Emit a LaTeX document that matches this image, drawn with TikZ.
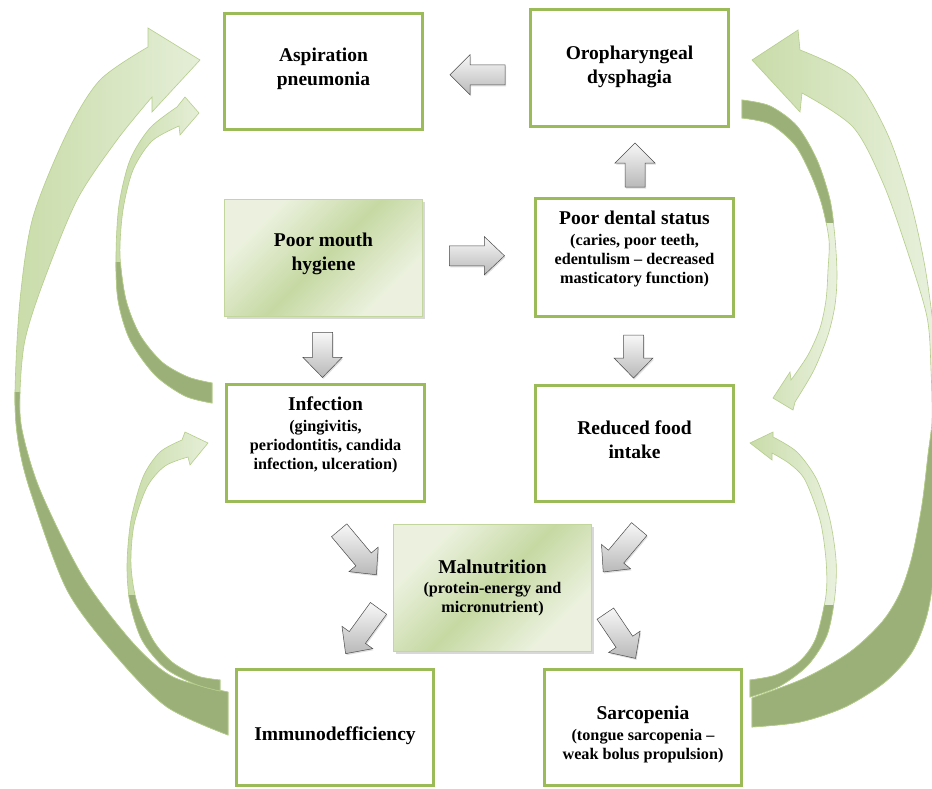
\documentclass[tikz,border=0pt]{standalone}
\usepackage{fontspec}
\setmainfont{Liberation Serif}
\usetikzlibrary{calc,shadows}
\definecolor{gborder}{HTML}{9BBB59}
\definecolor{gl}{HTML}{EBF1DE}
\definecolor{gd}{HTML}{C6D9A3}
\definecolor{gedge}{HTML}{C3D69B}
\definecolor{al1}{HTML}{C9DCA9}
\definecolor{al2}{HTML}{E9F1DE}
\definecolor{ad}{HTML}{9BAF79}
\definecolor{aedge}{HTML}{B5CD8A}
\pgfdeclarehorizontalshading{boxgrad}{100bp}{color(0bp)=(gl); color(28bp)=(gl); color(50bp)=(gd); color(72bp)=(gl); color(100bp)=(gl)}
\newcommand\ttltxt{\fontsize{19.5}{24}\selectfont\bfseries}
\newcommand\subtxt{\fontsize{16.2}{19}\selectfont\bfseries}
\newcommand\blockarr[4]{%
  \begin{scope}[shift={#1}, rotate=#2]
    \path[barrow] ({-#3/2},-10) -- ({#3/2-20},-10) -- ({#3/2-20},{-#4}) -- ({#3/2},0)
      -- ({#3/2-20},{#4}) -- ({#3/2-20},10) -- ({-#3/2},10) -- cycle;
  \end{scope}}
\tikzset{
  cA/.style={insert path={plot[smooth] coordinates {(148,47) (100,80) (67,133) (33,217) (20,300) (15,392) (18,440) (30,490) (67,590) (117,657) (167,707) (228,735)}
    -- (228,692) -- plot[smooth] coordinates {(228,692) (173,677) (133,643) (83,577) (40,490) (22,430) (20,392) (25,340) (43,283) (77,200) (117,140) (152,97)}
    -- (152,112) -- (200,60) -- (148,28) -- cycle}},
  cB/.style={insert path={plot[smooth] coordinates {(177,107) (150,128) (130,160) (119,205) (116,255) (118,300) (130,340) (155,375) (185,396) (212,403)}
    -- (212,383) -- plot[smooth] coordinates {(212,383) (188,377) (162,362) (140,335) (126,300) (120,255) (123,210) (133,170) (152,141) (179,126)}
    -- (180,135) -- (199,113) -- (185,97) -- cycle}},
  cC/.style={insert path={plot[smooth] coordinates {(182,440) (160,452) (143,477) (131,520) (127,565) (130,603) (142,640) (165,668) (195,684) (220,691)}
    -- (220,680) -- plot[smooth] coordinates {(220,680) (197,676) (172,662) (153,640) (137,603) (131,565) (134,525) (147,487) (165,466) (188,457)}
    -- (190,465) -- (208,443) -- (185,432) -- cycle}},
  cD/.style={insert path={plot[smooth] coordinates {(800,50) (853,77) (887,133) (910,200) (925,267) (935,340) (940,400) (941,440) (939,500) (935,565) (927,615) (912,652) (885,682) (845,707) (800,722) (752,727)}
    -- (752,698) -- plot[smooth] coordinates {(752,698) (805,678) (850,652) (882,622) (900,593) (912,557) (922,505) (928,455) (932,420) (931,370) (927,317) (907,250) (883,183) (853,127) (802,93)}
    -- (800,112) -- (752,60) -- (798,30) -- cycle}},
  cE/.style={insert path={plot[smooth] coordinates {(742,100) (770,106) (797,126) (817,160) (830,200) (835,238) (837,275) (835,305) (828,335) (814,370) (795,402)}
    -- (793,410) -- (773,398) -- (790,372)
    -- plot[smooth] coordinates {(791,380) (808,355) (820,328) (826,300) (828,270) (829,240) (822,205) (811,175) (795,145) (770,124) (742,118)} -- cycle}},
  cF/.style={insert path={plot[smooth] coordinates {(773,437) (797,452) (817,480) (830,520) (836,560) (835,595) (827,635) (808,665) (780,686) (750,697)}
    -- (750,680) -- plot[smooth] coordinates {(750,680) (776,675) (800,661) (816,638) (826,595) (826,560) (820,520) (805,480) (790,464) (772,453)}
    -- (772,460) -- (750,443) -- (773,432) -- cycle}}
}
\begin{document}
\begin{tikzpicture}[x=1pt,y=-1pt,
  box/.style={draw=gborder, line width=3pt, fill=white, inner sep=0pt,
    minimum width=198pt, minimum height=116pt},
  gbox/.style={draw=gedge, line width=0.8pt, shade, shading=boxgrad, shading angle=-45,
    inner sep=0pt, minimum width=198pt, minimum height=117pt,
    drop shadow={opacity=0.3, shadow xshift=2pt, shadow yshift=-2pt}},
  txt/.style={align=center, inner sep=0pt},
  barrow/.style={draw=gray!60!black, line width=0.5pt, top color=gray!6, bottom color=gray!55,
    drop shadow={opacity=0.25, shadow xshift=1pt, shadow yshift=-1.5pt}},
  lightarr/.style={left color=al1, right color=al2, draw=aedge, line width=0.6pt},
  darkarr/.style={fill=ad, draw=aedge, line width=0.6pt}]
\useasboundingbox (0,0) rectangle (932,788);
\fill[white] (0,0) rectangle (932,788);
\clip (0,0) rectangle (932,788);

% ---- curved arrows (light face, then dark back face clipped) ----
\path[lightarr, cA];
\begin{scope}\clip (0,392) rectangle (240,788); \path[darkarr, cA]; \end{scope}
\path[lightarr, cB];
\begin{scope}\clip (100,262) rectangle (215,420); \path[darkarr, cB]; \end{scope}
\path[lightarr, cC];
\begin{scope}\clip (100,595) rectangle (222,700); \path[darkarr, cC]; \end{scope}
\path[lightarr, cD];
\begin{scope}\clip (740,430) rectangle (950,740); \path[darkarr, cD]; \end{scope}
\path[lightarr, cE];
\begin{scope}\clip (735,90) rectangle (850,222); \path[darkarr, cE]; \end{scope}
\path[lightarr, cF];
\begin{scope}\clip (740,605) rectangle (845,700); \path[darkarr, cF]; \end{scope}

% ---- boxes ----
\node[box] (asp) at (323.5,71.5) {};
\node[box, minimum height=117pt] (oro) at (629.5,68) {};
\node[gbox] (hyg) at (323.5,258) {};
\node[box, minimum height=118pt] (den) at (634.5,257.5) {};
\node[box, minimum height=117pt] (inf) at (325.5,443) {};
\node[box] (red) at (634.5,443.5) {};
\node[gbox, minimum height=127pt] (mal) at (492.5,588) {};
\node[box, minimum width=197pt] (imm) at (335,727.5) {};
\node[box, minimum width=197pt] (sar) at (643,727.5) {};

% ---- texts ----
\node[txt, font=\ttltxt] (asp-t) at ([yshift=3pt]asp.center) {Aspiration\\pneumonia};
\node[txt, font=\ttltxt] (oro-t) at ([yshift=1.5pt]oro.center) {Oropharyngeal\\dysphagia};
\node[txt, font=\ttltxt] (hyg-t) at ([yshift=4.5pt]hyg.center) {Poor mouth\\hygiene};
\node[txt, font=\subtxt] (den-t) at ([yshift=8.5pt]den.center) {{\ttltxt Poor dental status}\\[2pt](caries, poor teeth,\\edentulism -- decreased\\masticatory function)};
\node[txt, font=\subtxt] (inf-t) at ([yshift=8pt]inf.center) {{\ttltxt Infection}\\[2pt](gingivitis,\\periodontitis, candida\\infection, ulceration)};
\node[txt, font=\ttltxt] (red-t) at ([yshift=3.5pt]red.center) {Reduced food\\intake};
\node[txt, font=\subtxt] (mal-t) at ([yshift=0.5pt]mal.center) {{\ttltxt Malnutrition}\\[1pt](protein-energy and\\micronutrient)};
\node[txt, font=\ttltxt] (imm-t) at ([yshift=-8.5pt]imm.center) {Immunodefficiency};
\node[txt, font=\subtxt] (sar-t) at ([yshift=-6.5pt]sar.center) {{\ttltxt Sarcopenia}\\[2pt](tongue sarcopenia --\\weak bolus propulsion)};

% ---- block arrows ----
\blockarr{($(asp.east)!.5!(oro.west)+(1,5)$)}{180}{55}{20}
\blockarr{($(hyg.east)!.5!(den.west)+(-1.5,-2)$)}{0}{55}{19}
\blockarr{($(den.north)!.5!(oro.south)+(3,2.5)$)}{90}{44}{20}
\blockarr{($(hyg.south)!.5!(inf.north)+(-2,5)$)}{-90}{45}{19.5}
\blockarr{($(den.south)!.5!(red.north)+(-1,5.5)$)}{-90}{43}{19.5}
\blockarr{($(inf.south)!.5!(mal.west)+(-1.5,7)$)}{-50}{58}{19}
\blockarr{($(red.south)!.5!(mal.east)+(8,5)$)}{-130}{56}{19}
\blockarr{($(mal.west)!.5!(imm.north)+(-2,3)$)}{-126}{56}{19}
\blockarr{($(mal.east)!.5!(sar.north)+(3,8)$)}{-56}{54}{19}
\end{tikzpicture}
\end{document}
